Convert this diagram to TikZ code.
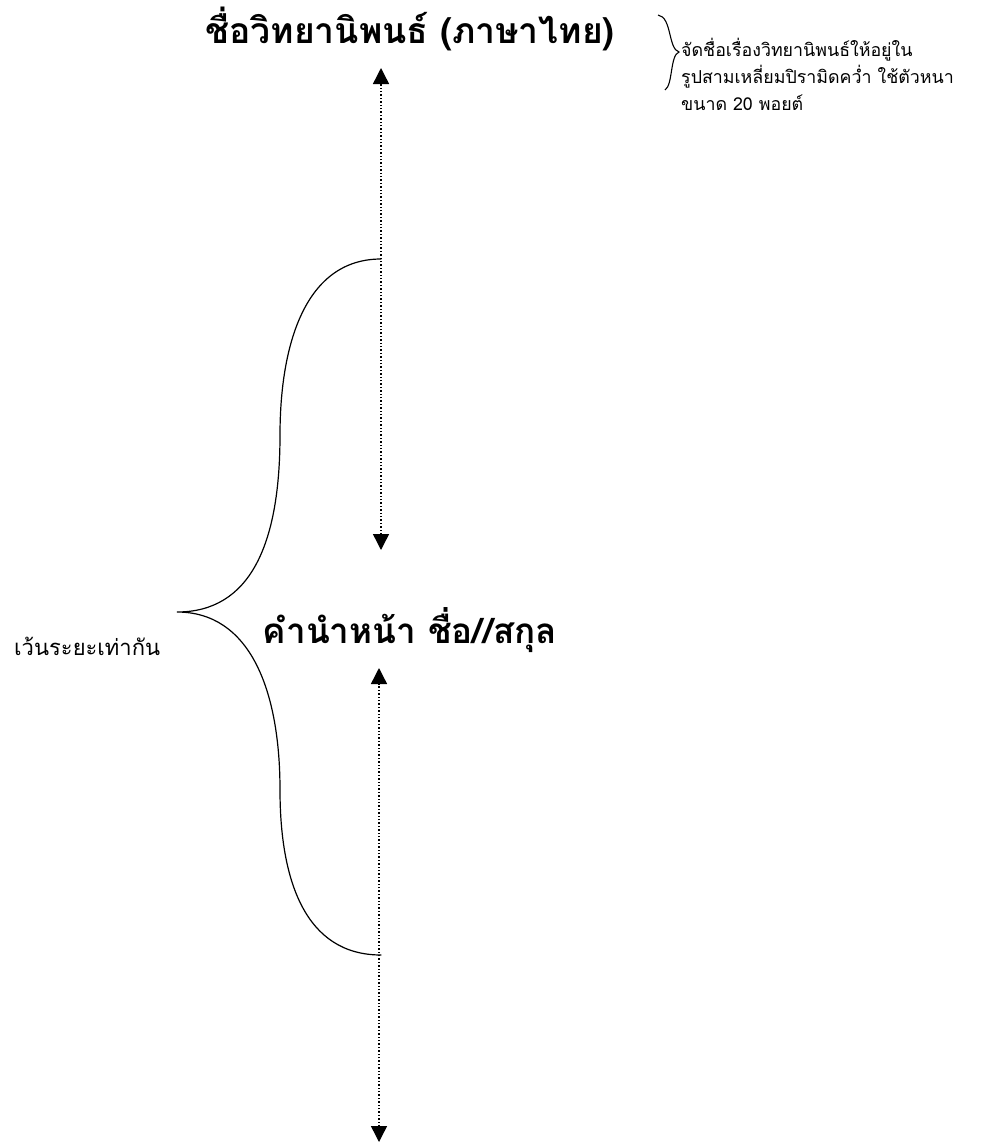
\documentclass[tikz,border=0pt]{standalone}
\usepackage{fontspec}
\usetikzlibrary{arrows.meta}
\newfontfamily\thai[Script=Thai]{Loma}
\tikzset{
  dimarrow/.style={line width=1.4pt, dotted, {Triangle[width=16pt,length=16pt]}-{Triangle[width=16pt,length=16pt]}},
  bracepath/.style={line width=1.2pt, line cap=round},
  titletext/.style={font=\thai\bfseries\fontsize{35.5}{40}\selectfont, inner sep=0pt},
  nametext/.style={font=\thai\bfseries\fontsize{35}{40}\selectfont, inner sep=0pt},
  notetext/.style={font=\thai\fontsize{17.8}{27}\selectfont, inner sep=0pt, align=left},
  labeltext/.style={font=\thai\fontsize{22}{26}\selectfont, inner sep=0pt}
}
\begin{document}
\begin{tikzpicture}[x=1pt,y=-1pt]
\useasboundingbox (0,0) rectangle (989,1146);
\node[titletext] (title) at (410,29) {ชื่อวิทยานิพนธ์ (ภาษาไทย)};
\node[nametext] (name) at (410,630) {คำนำหน้า ชื่อ//สกุล};
\node[labeltext, anchor=west] (label) at (14,646) {เว้นระยะเท่ากัน};
\node[notetext, anchor=north west] (note) at (681,38) {จัดชื่อเรื่องวิทยานิพนธ์ให้อยู่ใน\\รูปสามเหลี่ยมปิรามิดคว่ำ ใช้ตัวหนา\\ขนาด 20 พอยต์};
\coordinate (a1t) at (381,68);
\coordinate (a1b) at (381,550);
\coordinate (a2t) at (379,668);
\coordinate (a2b) at (379,1142);
\draw[dimarrow] (a1b) -- (a1t);
\draw[dimarrow] (a2b) -- (a2t);
\coordinate (btop) at (381,259);
\coordinate (btip) at (177,612);
\coordinate (bbot) at (381,955);
\draw[bracepath] (btop) .. controls (305,259) and (280,345) .. (280,435)
  .. controls (280,545) and (250,612) .. (btip)
  .. controls (250,612) and (280,690) .. (280,790)
  .. controls (280,880) and (305,955) .. (bbot);
\coordinate (stop) at (658,15);
\coordinate (stip) at (679,52);
\coordinate (sbot) at (665,90);
\draw[line width=1.1pt] (stop) .. controls (672,17) and (668,49) .. (stip)
  .. controls (670,55) and (673,85) .. (sbot);
\end{tikzpicture}
\end{document}
